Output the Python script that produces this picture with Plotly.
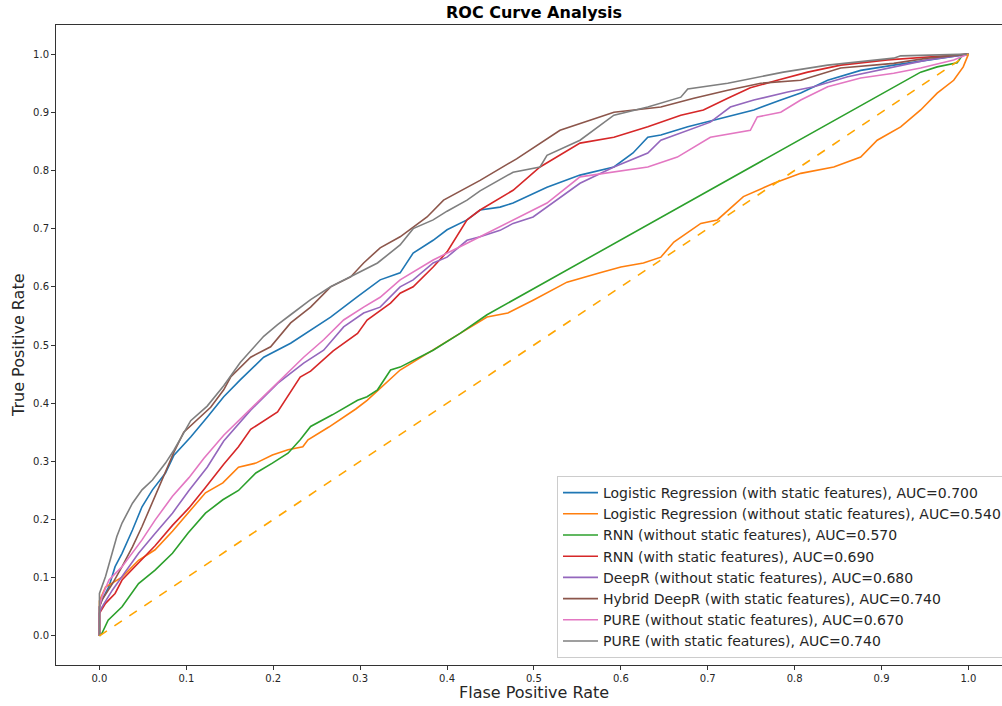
import plotly.graph_objects as go

# ---------------- data ----------------
labels = [
    "Logistic Regression (with static features), AUC=0.700",
    "Logistic Regression (without static features), AUC=0.540",
    "RNN (without static features), AUC=0.570",
    "RNN (with static features), AUC=0.690",
    "DeepR (without static features), AUC=0.680",
    "Hybrid DeepR (with static features), AUC=0.740",
    "PURE (without static features), AUC=0.670",
    "PURE (with static features), AUC=0.740",
]
colors = ["#1f77b4", "#ff7f0e", "#2ca02c", "#d62728",
          "#9467bd", "#8c564b", "#e377c2", "#7f7f7f"]

lr_static_fpr = [0, 0, 0.003, 0.011, 0.018, 0.026, 0.038, 0.049, 0.061, 0.076, 0.0855, 0.105, 0.124, 0.143,
                 0.162, 0.189, 0.22, 0.243, 0.266, 0.297, 0.323, 0.346, 0.361, 0.384, 0.40, 0.423, 0.438,
                 0.461, 0.476, 0.515, 0.553, 0.592, 0.614, 0.631, 0.646, 0.677, 0.723, 0.753, 0.784, 0.807,
                 0.838, 0.876, 0.914, 0.953, 0.99, 1.0]
lr_static_tpr = [0, 0.05, 0.062, 0.085, 0.119, 0.142, 0.182, 0.222, 0.251, 0.28, 0.31, 0.342, 0.376, 0.411,
                 0.44, 0.479, 0.503, 0.526, 0.548, 0.583, 0.612, 0.624, 0.658, 0.68, 0.698, 0.715, 0.732,
                 0.737, 0.744, 0.771, 0.792, 0.806, 0.83, 0.857, 0.861, 0.875, 0.892, 0.904, 0.921, 0.933,
                 0.955, 0.972, 0.981, 0.99, 0.998, 1.0]

lr_nostatic_fpr = [0, 0, 0.007, 0.026, 0.045, 0.064, 0.084, 0.102, 0.122, 0.142, 0.16, 0.18, 0.199, 0.217,
                   0.234, 0.24, 0.264, 0.295, 0.308, 0.346, 0.384, 0.415, 0.446, 0.47, 0.499, 0.538, 0.576,
                   0.60, 0.626, 0.646, 0.661, 0.692, 0.711, 0.741, 0.776, 0.807, 0.845, 0.876, 0.895, 0.922,
                   0.945, 0.964, 0.983, 0.994, 1.0]
lr_nostatic_tpr = [0, 0.06, 0.084, 0.101, 0.13, 0.148, 0.18, 0.212, 0.246, 0.263, 0.29, 0.297, 0.311, 0.32,
                   0.325, 0.337, 0.359, 0.39, 0.405, 0.457, 0.491, 0.52, 0.548, 0.555, 0.577, 0.608, 0.624,
                   0.634, 0.641, 0.651, 0.677, 0.709, 0.715, 0.755, 0.778, 0.795, 0.806, 0.823, 0.852, 0.875,
                   0.904, 0.933, 0.955, 0.978, 1.0]

rnn_nostatic_fpr = [0, 0.003, 0.01, 0.026, 0.045, 0.064, 0.084, 0.102, 0.122, 0.142, 0.16, 0.18, 0.199,
                    0.217, 0.231, 0.243, 0.268, 0.297, 0.308, 0.32, 0.335, 0.346, 0.384, 0.415, 0.446,
                    0.945, 0.964, 0.987, 0.993, 1.0]
rnn_nostatic_tpr = [0, 0.005, 0.027, 0.05, 0.09, 0.113, 0.142, 0.177, 0.211, 0.234, 0.25, 0.28, 0.297,
                    0.314, 0.337, 0.36, 0.38, 0.405, 0.411, 0.423, 0.457, 0.462, 0.491, 0.52, 0.552,
                    0.969, 0.978, 0.985, 0.998, 1.0]

rnn_static_fpr = [0, 0, 0.007, 0.018, 0.026, 0.045, 0.064, 0.084, 0.103, 0.122, 0.143, 0.16, 0.174, 0.205,
                  0.22, 0.231, 0.243, 0.269, 0.297, 0.308, 0.335, 0.346, 0.361, 0.384, 0.40, 0.423, 0.438,
                  0.476, 0.507, 0.553, 0.592, 0.631, 0.669, 0.695, 0.723, 0.749, 0.78, 0.815, 0.853, 0.907,
                  0.983, 1.0]
rnn_static_tpr = [0, 0.039, 0.056, 0.073, 0.096, 0.125, 0.155, 0.19, 0.22, 0.255, 0.295, 0.325, 0.355, 0.385,
                  0.42, 0.445, 0.455, 0.49, 0.52, 0.543, 0.572, 0.589, 0.60, 0.634, 0.66, 0.715, 0.732,
                  0.766, 0.806, 0.847, 0.857, 0.875, 0.895, 0.904, 0.924, 0.942, 0.955, 0.969, 0.981, 0.99,
                  0.998, 1.0]

deepr_fpr = [0, 0, 0.003, 0.015, 0.026, 0.045, 0.064, 0.084, 0.103, 0.124, 0.143, 0.174, 0.205, 0.235, 0.258,
             0.281, 0.304, 0.323, 0.346, 0.361, 0.384, 0.40, 0.423, 0.438, 0.461, 0.476, 0.499, 0.515, 0.553,
             0.592, 0.631, 0.646, 0.669, 0.703, 0.726, 0.753, 0.792, 0.822, 0.861, 0.907, 0.953, 1.0]
deepr_tpr = [0, 0.04, 0.05, 0.079, 0.102, 0.142, 0.176, 0.211, 0.25, 0.29, 0.335, 0.388, 0.434, 0.469, 0.491,
             0.531, 0.555, 0.565, 0.60, 0.612, 0.641, 0.651, 0.68, 0.686, 0.697, 0.709, 0.72, 0.737, 0.778,
             0.806, 0.83, 0.852, 0.864, 0.883, 0.909, 0.921, 0.935, 0.944, 0.961, 0.976, 0.99, 1.0]

hybrid_fpr = [0, 0, 0.003, 0.015, 0.026, 0.038, 0.049, 0.064, 0.076, 0.0855, 0.097, 0.112, 0.128, 0.143,
              0.151, 0.174, 0.197, 0.22, 0.243, 0.266, 0.289, 0.304, 0.323, 0.346, 0.377, 0.396, 0.438,
              0.48, 0.53, 0.592, 0.646, 0.684, 0.723, 0.761, 0.807, 0.853, 0.914, 0.953, 0.99, 1.0]
hybrid_tpr = [0, 0.05, 0.062, 0.09, 0.119, 0.153, 0.188, 0.24, 0.28, 0.315, 0.35, 0.371, 0.393, 0.423,
              0.445, 0.479, 0.497, 0.538, 0.565, 0.60, 0.617, 0.641, 0.667, 0.686, 0.72, 0.749, 0.783,
              0.82, 0.869, 0.90, 0.909, 0.924, 0.938, 0.95, 0.955, 0.976, 0.984, 0.993, 0.998, 1.0]

pure_nostatic_fpr = [0, 0, 0.003, 0.011, 0.026, 0.038, 0.049, 0.064, 0.084, 0.103, 0.12, 0.143, 0.174, 0.205,
                     0.235, 0.258, 0.281, 0.304, 0.323, 0.346, 0.384, 0.423, 0.461, 0.499, 0.515, 0.553, 0.592,
                     0.631, 0.665, 0.684, 0.703, 0.749, 0.757, 0.784, 0.807, 0.838, 0.876, 0.914, 0.945,
                     0.983, 1.0]
pure_nostatic_tpr = [0, 0.05, 0.068, 0.096, 0.119, 0.142, 0.165, 0.199, 0.24, 0.272, 0.305, 0.345, 0.39, 0.434,
                     0.479, 0.509, 0.543, 0.565, 0.582, 0.612, 0.646, 0.675, 0.703, 0.732, 0.744, 0.789, 0.797,
                     0.806, 0.823, 0.84, 0.857, 0.869, 0.892, 0.90, 0.921, 0.944, 0.959, 0.967, 0.976,
                     0.99, 1.0]

pure_static_fpr = [0, 0, 0.007, 0.013, 0.02, 0.026, 0.038, 0.049, 0.061, 0.076, 0.086, 0.105, 0.124, 0.143,
                   0.162, 0.189, 0.205, 0.22, 0.243, 0.266, 0.297, 0.32, 0.346, 0.361, 0.384, 0.40, 0.423,
                   0.438, 0.476, 0.507, 0.515, 0.553, 0.592, 0.631, 0.669, 0.677, 0.723, 0.761, 0.787, 0.838,
                   0.914, 0.922, 1.0]
pure_static_tpr = [0, 0.073, 0.102, 0.136, 0.171, 0.194, 0.228, 0.251, 0.268, 0.297, 0.32, 0.37, 0.395, 0.43,
                   0.47, 0.515, 0.535, 0.552, 0.578, 0.60, 0.624, 0.641, 0.672, 0.70, 0.715, 0.73, 0.749,
                   0.765, 0.797, 0.806, 0.826, 0.852, 0.895, 0.909, 0.926, 0.94, 0.95, 0.961, 0.969, 0.981,
                   0.993, 0.997, 1.0]

chance_fpr = [0, 1]
chance_tpr = [0, 1]

tick_vals = [0.0, 0.1, 0.2, 0.3, 0.4, 0.5, 0.6, 0.7, 0.8, 0.9, 1.0]
tick_text = ["0.0", "0.1", "0.2", "0.3", "0.4", "0.5", "0.6", "0.7", "0.8", "0.9", "1.0"]

series = [
    (lr_static_fpr, lr_static_tpr),
    (lr_nostatic_fpr, lr_nostatic_tpr),
    (rnn_nostatic_fpr, rnn_nostatic_tpr),
    (rnn_static_fpr, rnn_static_tpr),
    (deepr_fpr, deepr_tpr),
    (hybrid_fpr, hybrid_tpr),
    (pure_nostatic_fpr, pure_nostatic_tpr),
    (pure_static_fpr, pure_static_tpr),
]

# ---------------- figure ----------------
FONT = "DejaVu Sans"
fig = go.Figure()

for (fx, ty), name, col in zip(series, labels, colors):
    fig.add_trace(go.Scatter(x=fx, y=ty, mode="lines", name=name,
                             legendgroup=name,
                             line=dict(color=col, width=1.6)))

fig.add_trace(go.Scatter(x=chance_fpr, y=chance_tpr, mode="lines", showlegend=False,
                         line=dict(color="orange", width=1.6, dash="dash")))

W, H = 1002, 706
L, T = 56, 25
plot_bottom = 665
B = H - plot_bottom
plot_w = W - L
plot_h = plot_bottom - T
x_lo = -0.05
x_hi = x_lo + plot_w / 869.0

fig.update_layout(
    width=W, height=H,
    margin=dict(l=L, r=0, t=T, b=B, autoexpand=False),
    paper_bgcolor="white", plot_bgcolor="white",
    font=dict(family=FONT, color="#262626"),
    showlegend=True,
    legend=dict(xref="container", yref="container",
                x=557 / W, xanchor="left", y=(H - 658) / H, yanchor="bottom",
                bgcolor="white", bordercolor="#cccccc", borderwidth=1,
                font=dict(family=FONT, size=14, color="#262626"),
                traceorder="grouped", tracegroupgap=0,
                itemwidth=35),
    annotations=[
        dict(text="<b>ROC Curve Analysis</b>", xref="paper", yref="paper",
             x=(533.5 - L) / plot_w, y=1 + 12 / plot_h, xanchor="center", yanchor="middle",
             showarrow=False, font=dict(family=FONT, size=16, color="black")),
        dict(text="Flase Positive Rate", xref="paper", yref="paper",
             x=(533.5 - L) / plot_w, y=-27 / plot_h, xanchor="center", yanchor="middle",
             showarrow=False, font=dict(family=FONT, size=16, color="#262626")),
        dict(text="True Positive Rate", xref="paper", yref="paper",
             x=-38 / plot_w, y=0.5, xanchor="center", yanchor="middle", textangle=-90,
             showarrow=False, font=dict(family=FONT, size=16, color="#262626")),
    ],
)

axis_common = dict(
    showgrid=False, zeroline=False,
    showline=True, linecolor="#333333", linewidth=1, mirror=True,
    ticks="outside", ticklen=4, tickwidth=1, tickcolor="#333333",
    tickfont=dict(family=FONT, size=10, color="#262626"),
    tickvals=tick_vals, ticktext=tick_text,
)
fig.update_xaxes(range=[x_lo, x_hi], **axis_common)
fig.update_yaxes(range=[-0.05, 1.05], **axis_common)

# remove the default page margin so the figure fills the window like the reference
fig.write_html("out.html",
               config={"displayModeBar": False},
               post_script="document.body.style.margin='0px';document.body.style.overflow='hidden';")
